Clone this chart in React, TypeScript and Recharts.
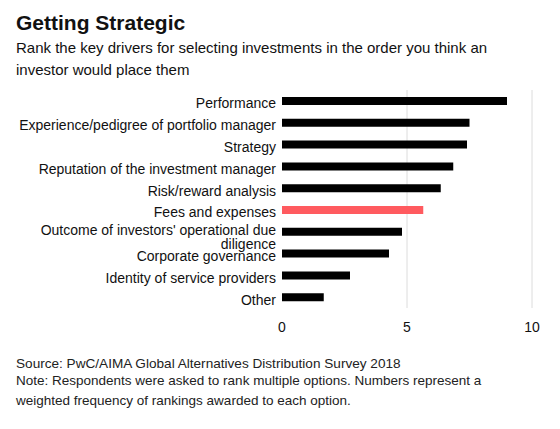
import React from "react";
import { BarChart, Bar, XAxis, YAxis, CartesianGrid, Cell } from "recharts";

const categories = [
  "Performance",
  "Experience/pedigree of portfolio manager",
  "Strategy",
  "Reputation of the investment manager",
  "Risk/reward analysis",
  "Fees and expenses",
  "Outcome of investors' operational due diligence",
  "Corporate governance",
  "Identity of service providers",
  "Other",
];
const values = [9.0, 7.5, 7.4, 6.85, 6.35, 5.65, 4.8, 4.28, 2.72, 1.67];
const highlighted = "Fees and expenses";
const xTicks = [0, 5, 10];
const gridValues = [5, 10];
// wrapped tick labels (as in the original)
const labelLines: Record<string, string[]> = {
  "Outcome of investors' operational due diligence": [
    "Outcome of investors' operational due",
    "diligence",
  ],
};

const data = categories.map((name, i) => ({ name, value: values[i] }));

const FONT = "'Liberation Sans', Arial, sans-serif";

const YTick = (props: any) => {
  const { x, y, payload } = props;
  const lines = labelLines[payload.value] || [payload.value];
  const start = y + 7.5 - (lines.length - 1) * 4;
  return (
    <text x={x} y={start} textAnchor="end" fontSize={14} fontFamily={FONT} fill="#111">
      {lines.map((l: string, i: number) => (
        <tspan key={i} x={x} y={start + i * 13.6}>
          {l}
        </tspan>
      ))}
    </text>
  );
};

const XTick = (props: any) => {
  const { x, y, payload } = props;
  return (
    <text x={x} y={y + 16} textAnchor="middle" fontSize={14} fontFamily={FONT} fill="#111">
      {payload.value}
    </text>
  );
};

export default function App() {
  return (
    <div
      style={{
        position: "absolute",
        left: 0,
        top: 0,
        width: 560,
        height: 429,
        background: "#fff",
        fontFamily: FONT,
        color: "#111",
      }}
    >
      <div
        style={{
          position: "absolute",
          left: 16,
          top: 12,
          fontSize: 21,
          lineHeight: "21px",
          fontWeight: 700,
          whiteSpace: "nowrap",
        }}
      >
        Getting Strategic
      </div>
      <div
        style={{
          position: "absolute",
          left: 16,
          top: 37,
          fontSize: 15,
          lineHeight: "22px",
          whiteSpace: "nowrap",
        }}
      >
        Rank the key drivers for selecting investments in the order you think an
        <br />
        investor would place them
      </div>
      <div style={{ position: "absolute", left: 0, top: 0 }}>
        <BarChart
          width={560}
          height={429}
          data={data}
          layout="vertical"
          margin={{ top: 90, right: 28, bottom: 91, left: 0 }}
          barCategoryGap={0}
        >
          <CartesianGrid horizontal={false} vertical verticalValues={gridValues} stroke="#dcdcdc" />
          <XAxis
            type="number"
            domain={[0, 10]}
            ticks={xTicks}
            axisLine={false}
            tickLine={false}
            height={30}
            tick={<XTick />}
            interval={0}
          />
          <YAxis
            type="category"
            dataKey="name"
            width={282}
            axisLine={false}
            tickLine={false}
            tickSize={0}
            tickMargin={6}
            interval={0}
            tick={<YTick />}
          />
          <Bar dataKey="value" barSize={8} isAnimationActive={false}>
            {data.map((d, i) => (
              <Cell key={i} fill={d.name === highlighted ? "#ff5a5f" : "#000"} />
            ))}
          </Bar>
        </BarChart>
      </div>
      <div
        style={{
          position: "absolute",
          left: 16,
          top: 354,
          fontSize: 13.6,
          lineHeight: "19px",
          color: "#222",
          whiteSpace: "nowrap",
        }}
      >
        Source: PwC/AIMA Global Alternatives Distribution Survey 2018
      </div>
      <div
        style={{
          position: "absolute",
          left: 16,
          top: 371,
          fontSize: 13.5,
          lineHeight: "20px",
          color: "#222",
          whiteSpace: "nowrap",
        }}
      >
        Note: Respondents were asked to rank multiple options. Numbers represent a
        <br />
        weighted frequency of rankings awarded to each option.
      </div>
    </div>
  );
}
